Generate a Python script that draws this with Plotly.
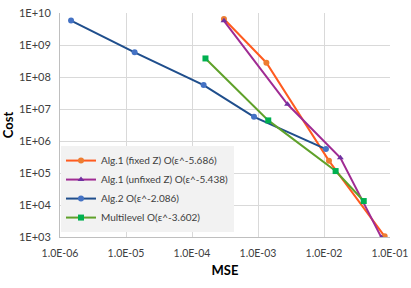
import plotly.graph_objects as go

# Data
fixed_mse = [3.05e-4, 1.34e-3, 1.19e-2, 8.3e-2]
fixed_cost = [6.5e9, 2.8e8, 2.4e5, 1.05e3]

unfixed_mse = [3.05e-4, 2.8e-3, 1.77e-2, 7.4e-2]
unfixed_cost = [5.7e9, 1.4e7, 3.0e5, 9.7e2]

alg2_mse = [1.47e-6, 1.35e-5, 1.5e-4, 8.7e-4, 1.07e-2]
alg2_cost = [5.8e9, 5.9e8, 5.6e7, 5.7e6, 5.6e5]

ml_mse = [1.6e-4, 1.43e-3, 1.5e-2, 4.0e-2]
ml_cost = [3.8e8, 4.4e6, 1.15e5, 1.33e4]

names = ["Alg.1 (fixed Z) O(ε^-5.686)", "Alg.1 (unfixed Z) O(ε^-5.438)",
         "Alg.2 O(ε^-2.086)", "Multilevel O(ε^-3.602)"]

x_tickvals = [1e-6, 1e-5, 1e-4, 1e-3, 1e-2, 1e-1]
x_ticktext = ["1.0E-06", "1.0E-05", "1.0E-04", "1.0E-03", "1.0E-02", "1.0E-01"]
y_tickvals = [1e3, 1e4, 1e5, 1e6, 1e7, 1e8, 1e9, 1e10]
y_ticktext = ["1E+03", "1E+04", "1E+05", "1E+06", "1E+07", "1E+08", "1E+09", "1E+10"]

FONT = "Lato"

fig = go.Figure()
series = [
    (fixed_mse, fixed_cost, names[0], "#FF5B1F", "#ED7D31", "circle"),
    (unfixed_mse, unfixed_cost, names[1], "#A02B93", "#7030A0", "triangle-up"),
    (alg2_mse, alg2_cost, names[2], "#1F4E8C", "#4472C4", "circle"),
    (ml_mse, ml_cost, names[3], "#5FA12A", "#00B050", "square"),
]
for xs, ys, nm, lc, mc, sym in series:
    fig.add_trace(go.Scatter(
        x=xs, y=ys, name=nm, mode="lines+markers",
        line=dict(color=lc, width=2),
        marker=dict(color=mc, size=6, symbol=sym),
    ))

fig.update_layout(
    width=411, height=288,
    margin=dict(l=60, r=21, t=13, b=51, autoexpand=False),
    paper_bgcolor="white", plot_bgcolor="white",
    font=dict(family=FONT, size=11, color="#404040"),
    showlegend=True,
    legend=dict(x=0.003, y=0.022, xanchor="left", yanchor="bottom",
                bgcolor="#F2F2F2", font=dict(family=FONT, size=10, color="#404040"),
                itemwidth=30, tracegroupgap=0),
)
fig.update_xaxes(
    type="log", range=[-6, -1], automargin=False,
    tickvals=x_tickvals, ticktext=x_ticktext,
    showgrid=True, gridcolor="#D9D9D9", gridwidth=1,
    showline=True, linecolor="#BFBFBF", linewidth=1, mirror=False,
    ticks="", zeroline=False, ticklabelstandoff=6, ticklabeloverflow="allow",
    tickfont=dict(size=10.5),
    title=dict(text="<b>MSE</b>", font=dict(family=FONT, size=13, color="#000000"), standoff=8),
)
fig.update_yaxes(
    type="log", range=[3, 10], automargin=False,
    tickvals=y_tickvals, ticktext=y_ticktext,
    showgrid=True, gridcolor="#D9D9D9", gridwidth=1,
    showline=True, linecolor="#BFBFBF", linewidth=1,
    ticks="", zeroline=False, ticklabelstandoff=6, ticklabeloverflow="allow",
    title=dict(text="<b>Cost</b>", font=dict(family=FONT, size=13, color="#000000"), standoff=6),
)

# remove the default 8px page margin so the figure fills the window exactly
fig.write_html("out.html", config={"displayModeBar": False},
               post_script="document.body.style.margin='0';")
